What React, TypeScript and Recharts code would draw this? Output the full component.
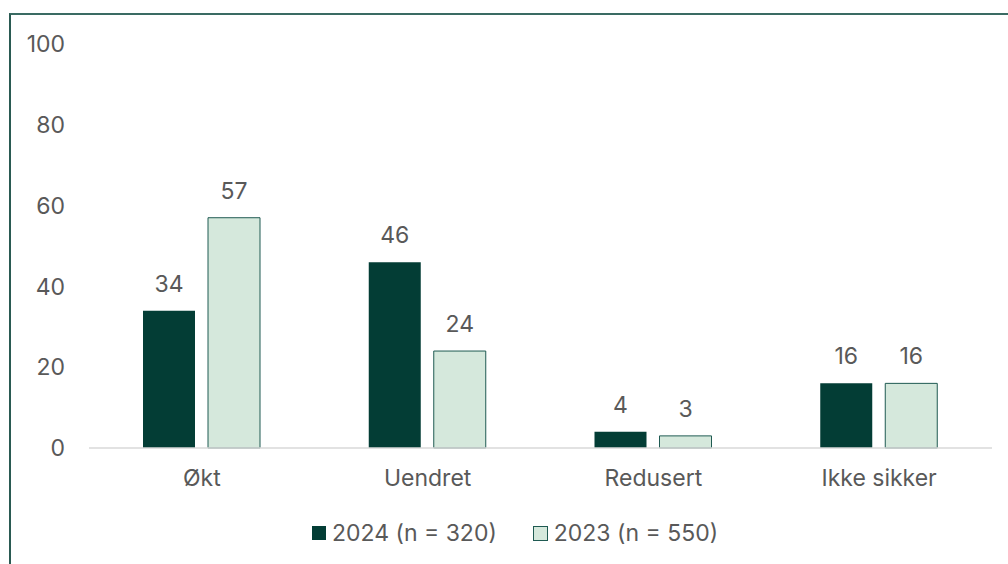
import React from "react";
import { BarChart, Bar, XAxis, YAxis, Legend, LabelList } from "recharts";

const categories = ["Økt", "Uendret", "Redusert", "Ikke sikker"];
const series2024 = [34, 46, 4, 16];
const series2023 = [57, 24, 3, 16];
const yTicks = [0, 20, 40, 60, 80, 100];
const seriesNames = ["2024 (n = 320)", "2023 (n = 550)"];

const data = categories.map((c, i) => ({ name: c, a: series2024[i], b: series2023[i] }));

const DARK = "#033d35";
const LIGHT = "#d5e8dc";
const EDGE = "#1f5a52";
const TEXT = "#595959";
const FONT = "Inter, 'Noto Sans', sans-serif";
const FS = 23;

const LegendContent = () => (
  <div
    style={{
      height: 30,
      display: "flex",
      justifyContent: "flex-start",
      alignItems: "center",
      fontFamily: FONT,
      fontSize: FS,
      color: TEXT,
      paddingLeft: 312,
    }}
  >
    <span style={{ display: "flex", alignItems: "center", marginRight: 36 }}>
      <span style={{ width: 14, height: 14, background: DARK, marginRight: 6, display: "inline-block" }} />
      {seriesNames[0]}
    </span>
    <span style={{ display: "flex", alignItems: "center" }}>
      <span
        style={{
          width: 13,
          height: 13,
          background: LIGHT,
          border: `1px solid ${EDGE}`,
          marginRight: 6,
          display: "inline-block",
        }}
      />
      {seriesNames[1]}
    </span>
  </div>
);

export default function App() {
  return (
    <div
      style={{
        position: "fixed",
        left: 0,
        top: 0,
        width: 1008,
        height: 564,
        overflow: "hidden",
        background: "#fff",
      }}
    >
      <div
        style={{
          position: "absolute",
          left: 9,
          top: 13,
          width: 1100,
          height: 700,
          borderTop: "2px solid #3a6b63",
          borderLeft: "2px solid #2a5a52",
        }}
      />
      <div style={{ position: "absolute", left: 0, top: 0 }}>
        <BarChart
          width={1008}
          height={564}
          data={data}
          margin={{ top: 44, right: 16, bottom: 16, left: 0 }}
          barSize={52}
          barGap={13}
        >
          <YAxis
            width={89}
            domain={[0, 100]}
            ticks={yTicks}
            axisLine={false}
            tickLine={false}
            tickSize={0}
            tickMargin={24}
            tick={{ fill: TEXT, fontSize: FS, fontFamily: FONT }}
          />
          <XAxis
            dataKey="name"
            height={70}
            axisLine={{ stroke: "#d9d9d9", strokeWidth: 1.5 }}
            tickLine={false}
            tickSize={0}
            tickMargin={22}
            tick={{ fill: TEXT, fontSize: FS, fontFamily: FONT }}
          />
          <Legend verticalAlign="bottom" content={<LegendContent />} />
          <Bar dataKey="a" name={seriesNames[0]} fill={DARK} isAnimationActive={false}>
            <LabelList dataKey="a" position="top" offset={19} fill={TEXT} fontSize={FS} fontFamily={FONT} />
          </Bar>
          <Bar dataKey="b" name={seriesNames[1]} fill={LIGHT} stroke={EDGE} strokeWidth={1} isAnimationActive={false}>
            <LabelList dataKey="b" position="top" offset={19} fill={TEXT} fontSize={FS} fontFamily={FONT} />
          </Bar>
        </BarChart>
      </div>
    </div>
  );
}
